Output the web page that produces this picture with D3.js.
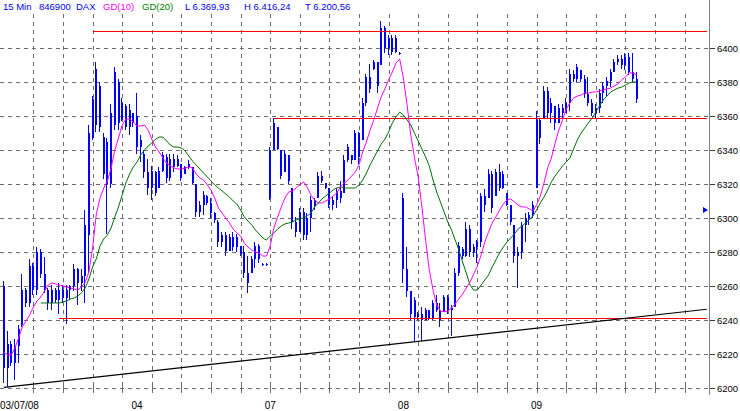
<!DOCTYPE html>
<html><head><meta charset="utf-8">
<script src="https://cdn.jsdelivr.net/npm/d3@7"></script>
<style>
body{margin:0;background:#fff}
svg{display:block}
text{font-family:"Liberation Sans",Arial,sans-serif}
</style>
</head><body>
<svg id="c" width="740" height="411"></svg>
<script>
// ---------- DATA ----------
const dayLabels = ["03/07/08","04","07","08","09"];
const dayStart  = [0,36,72,108,144];
const yTicks = [6200,6220,6240,6260,6280,6300,6320,6340,6360,6380,6400];
const gridIdx = [8,16,24,32,40,48,56,64,72,80,88,96,104,112,120,128,136,144,152,160,168,176,184];

const open = [
6260,6212,6226,6215,6225,6237,6258,6250,6272,6258,6280,6267,6258,6250,6258,6252,6258,6253,6258,6260,6270,6262,6266,6290,6347,6355,6378,6348,6345,6320,6355,6380,6358,6366,6354,6362,
6360,6342,6338,6327,6318,6327,6318,6328,6336,6324,6335,6331,6332,6326,6330,6330,6320,6304,6308,6313,6309,6303,6298,6286,6290,6281,6289,6283,6284,6280,6268,6268,6276,6284,6273,6273,
6312,6340,6354,6340,6327,6337,6318,6298,6292,6304,6290,6300,6311,6312,6325,6321,6318,6308,6311,6316,6315,6334,6337,6334,6350,6346,6368,6383,6388,6392,6390,6412,6400,6406,6398,6397,
6312,6270,6257,6252,6242,6244,6240,6246,6241,6250,6246,6245,6254,6246,6248,6268,6282,6278,6294,6280,6283,6286,6313,6312,6326,6313,6327,6318,6315,6308,6296,6278,6280,6296,6300,6302,
6318,6358,6359,6375,6362,6366,6356,6365,6362,6368,6385,6382,6387,6382,6373,6368,6362,6365,6374,6378,6381,6386,6392,6394,6390,6395,6386,6382];
const high = [
6263,6234,6228,6229,6237,6267,6259,6276,6274,6283,6282,6277,6259,6261,6259,6262,6261,6261,6261,6273,6271,6270,6305,6355,6372,6392,6380,6350,6347,6367,6389,6382,6371,6367,6367,6362,
6374,6349,6340,6335,6331,6328,6330,6339,6338,6338,6338,6337,6332,6331,6334,6330,6320,6310,6316,6314,6312,6304,6299,6292,6292,6291,6292,6291,6284,6284,6278,6278,6286,6285,6274,6274,
6342,6359,6354,6340,6340,6337,6318,6301,6306,6306,6303,6313,6312,6327,6328,6321,6318,6313,6318,6322,6337,6344,6337,6352,6351,6371,6385,6391,6393,6392,6416.24,6413,6408,6408,6408,6398,
6315,6283,6257,6254,6245,6248,6247,6246,6252,6255,6250,6255,6255,6249,6271,6286,6283,6298,6296,6285,6287,6315,6317,6329,6328,6329,6332,6328,6315,6308,6296,6283,6298,6303,6304,6310,
6363,6359,6378,6377,6371,6366,6367,6367,6371,6388,6387,6391,6387,6384,6383,6370,6367,6376,6380,6383,6388,6394,6396,6396,6397,6397,6397,6386];
const low = [
6203,6200.56,6213,6205,6215,6236,6248,6248,6255,6255,6265,6256,6246,6246,6250,6244,6250,6238,6252,6257,6249,6257,6250,6268,6346,6351,6351,6323,6291,6318,6352,6352,6357,6352,6349,6354,
6338,6333,6324,6314,6311,6313,6318,6327,6321,6322,6327,6330,6322,6326,6329,6320,6301,6301,6302,6308,6300,6297,6283,6283,6278,6281,6281,6280,6278,6265,6256,6268,6271,6274,6272,6272,
6311,6340,6340,6323,6327,6320,6294,6289,6292,6287,6287,6292,6305,6312,6321,6317,6306,6305,6306,6309,6315,6333,6332,6334,6332,6346,6366,6374,6387,6374,6390,6397,6396,6396,6397,6396,
6262,6254,6240,6227,6240,6228,6240,6240,6240,6245,6236,6245,6244,6231,6248,6266,6276,6277,6277,6277,6274,6283,6304,6312,6303,6313,6316,6317,6307,6296,6274,6259,6276,6286,6296,6300,
6318,6344,6359,6359,6356,6352,6356,6359,6362,6363,6380,6380,6380,6371,6366,6360,6359,6362,6368,6372,6377,6386,6390,6388,6387,6384,6380,6368];
const close = [
6212,6226,6215,6225,6235,6258,6250,6272,6258,6280,6267,6258,6250,6258,6252,6258,6253,6258,6260,6270,6262,6266,6296,6350,6370,6388,6354,6326,6320,6362,6386,6356,6368,6354,6364,6356,
6342,6346,6327,6318,6328,6315,6328,6337,6324,6335,6330,6335,6324,6330,6332,6321,6304,6308,6314,6309,6303,6299,6286,6290,6281,6289,6283,6289,6279,6268,6262,6276,6284,6276,6273,6273,
6340,6356,6341,6325,6338,6322,6298,6292,6304,6290,6300,6311,6307,6325,6322,6318,6308,6311,6316,6312,6334,6342,6334,6350,6336,6368,6383,6376,6392,6378,6412,6400,6406,6398,6406,6397,
6270,6257,6244,6242,6244,6240,6246,6241,6250,6246,6240,6254,6246,6247,6268,6284,6278,6294,6280,6283,6286,6313,6308,6326,6306,6327,6318,6326,6308,6298,6278,6280,6296,6300,6302,6308,
6358,6347,6375,6362,6368,6356,6365,6362,6368,6385,6382,6389,6382,6373,6368,6362,6365,6374,6378,6381,6386,6392,6394,6390,6395,6386,6382,6369.93];

const gd10 = [
6221.4,6219.6,6219.6,6223.7,6229.6,6236.1,6239.6,6243.1,6247.8,6251.4,6253.7,6257.2,6260.8,6262,6261.4,6260.8,6260.2,6259.6,6259,6258.4,6257.8,6259.6,6262.5,6268.4,6282.6,6302.5,6311.9,6317.8,6321.9,6329.6,6340.1,6347.2,6354.9,6358.4,6358.4,6356.6,
6354.3,6354.3,6354.9,6351.9,6346.6,6341.9,6339,6335.5,6332.5,6330.8,6329.6,6329,6329,6329.6,6330.2,6329.6,6326.1,6323.7,6322.5,6319.6,6316.7,6312,6306.1,6303.1,6300.2,6297.2,6293.7,6291.4,6289.6,6285.5,6283.1,6281.4,6280.2,6279.6,6277.8,6277.8,
6283.7,6294.3,6300.8,6306.7,6312,6315.5,6316.1,6317.8,6319.6,6321.4,6318.4,6313.7,6310.8,6309,6309,6310.2,6311.4,6313.1,6314.9,6318.4,6320.8,6322.5,6324.9,6327.2,6331.4,6339,6344.9,6351.9,6357.8,6364.9,6371.4,6376.1,6381.4,6386,6391.4,6393.7,
6382.5,6366.6,6349,6335.5,6324.3,6306.7,6287.2,6269.6,6257.8,6249,6245.5,6245,6245.5,6247.2,6249.6,6252.5,6255.5,6259,6262.5,6267.2,6271.9,6278.4,6286.1,6291.9,6297.2,6300.8,6304.9,6308.4,6310.8,6311.4,6309.6,6307.8,6306.7,6306.7,6305.5,6304.3,
6307.8,6313.1,6320.8,6329.6,6335.5,6344.3,6351.9,6357.8,6364.3,6367.8,6370.8,6371.9,6372.5,6373.7,6373.7,6374.3,6374.3,6374.9,6375.5,6376.1,6376.6,6377.8,6379,6381.4,6383.1,6385.5,6385.5,6384.3];
const gd20 = [
null,null,null,null,null,null,null,null,null,null,
6250.2,6250.2,6250.2,6250.2,6250.2,6250.2,6250.8,6251.4,6252.5,6253.1,6254.3,6256.1,6259,6264.3,6271.4,6276.1,6283.7,6287.8,6290.2,6294.3,6300.8,6306.7,6313.7,6320.8,6326.1,6330.2,
6333.1,6337.2,6340.1,6342.5,6344.3,6346.6,6347.8,6347.8,6345.5,6343.1,6341.9,6341.9,6341.4,6339.6,6336.6,6333.7,6331.4,6329,6326.6,6324.3,6322,6319.6,6317.8,6316.1,6314.3,6312.5,6310.2,6308.4,6304.9,6300.8,6298.4,6296.1,6293.1,6290.8,6288.4,6287.2,
6289.6,6291.4,6293.7,6295.5,6296.7,6297.2,6297.8,6299,6299.6,6300.2,6301.4,6303.1,6306.7,6309,6311.4,6313.1,6314.9,6316.7,6317.8,6318.4,6317.8,6317.8,6317.8,6317.8,6319.6,6322.5,6326.6,6331.4,6335.5,6339.6,6343.7,6346.6,6350.7,6356.1,6359.6,6362.5,
6360.8,6357.8,6354.9,6350.1,6345.5,6340.8,6336.1,6330.8,6322.5,6315.5,6309.6,6303.7,6297.8,6293.1,6287.2,6281.4,6274.3,6267.8,6260.8,6257.8,6257.8,6260.8,6263.7,6266.6,6271.4,6275.5,6279.6,6283.1,6286.1,6288.4,6290.8,6293.7,6295.5,6297.2,6299,6301.4,
6304.9,6309,6312.5,6316.7,6321.4,6324.9,6327.8,6330.8,6333.1,6335.5,6340.8,6346.1,6350.1,6353.1,6356.1,6359,6362.5,6366,6369.6,6371.9,6374.3,6375.5,6376.6,6377.2,6378.4,6379.6,6380.2,6380.2];

// horizontal support/resistance lines: value + first bar index
const levelValue = [6410.2, 6358.8, 6241.1];
const levelFrom  = [24, 73, 15];
const lineEndIdx = 190;
// trend line (two anchor points: bar index, value)
const trendIdx = [0, 190];
const trendVal = [6200.56, 6246.5];
const markerValue = 6304.6;

// ---------- CHART ----------
const svg = d3.select("#c");
const BLUE = "#0000ff", MAG = "#ff00ff", GRN = "#006f00", GRID = "#6e6e6e";
const x = d3.scaleLinear().domain([0, 1]).range([3.8, 7.5]);
const y = d3.scaleLinear().domain([6200, 6400]).range([388.3, 48.3]);
const px = v => Math.round(v) + 0.5;
const axisX = 709.5;

const grid = svg.append("g").attr("stroke", GRID).attr("stroke-dasharray", "4,4").attr("shape-rendering","crispEdges");
grid.selectAll(".h").data(yTicks).join("line")
  .attr("x1", 0).attr("x2", axisX).attr("y1", d => px(y(d))).attr("y2", d => px(y(d)));
grid.selectAll(".v").data(gridIdx).join("line")
  .attr("x1", d => px(x(d))).attr("x2", d => px(x(d))).attr("y1", 14).attr("y2", px(y(6200)));

// x-axis tick marks
svg.append("g").attr("stroke", GRID).attr("shape-rendering","crispEdges")
  .selectAll("line").data(gridIdx).join("line")
  .attr("x1", d => px(x(d))).attr("x2", d => px(x(d))).attr("y1", px(y(6200)) - 3).attr("y2", px(y(6200)) + 4);

// y axis
svg.append("line").attr("x1", axisX).attr("x2", axisX).attr("y1", 0).attr("y2", 395)
  .attr("stroke", "#808080").attr("shape-rendering","crispEdges");
const ya = svg.append("g");
ya.selectAll("line").data(yTicks).join("line")
  .attr("x1", axisX).attr("x2", axisX + 5).attr("y1", d => px(y(d))).attr("y2", d => px(y(d)))
  .attr("stroke", "#404040").attr("shape-rendering","crispEdges");
ya.selectAll("text").data(yTicks).join("text")
  .attr("x", 717).attr("y", d => y(d) + 3.5).attr("font-size", 9.5).attr("fill", "#000").text(d => d);

// x labels
svg.append("g").selectAll("text").data(dayLabels).join("text")
  .attr("x", (d, k) => k === 0 ? 0 : x(dayStart[k]))
  .attr("text-anchor", (d, k) => k === 0 ? "start" : "middle")
  .attr("y", 409).attr("font-size", 10).attr("fill", "#000").text(d => d);

// bars
const idx = d3.range(high.length);
const bars = svg.append("g").attr("fill", BLUE).attr("shape-rendering","crispEdges");
bars.selectAll(".w").data(idx).join("rect")
  .attr("x", i => Math.round(x(i)) - 1).attr("width", 1)
  .attr("y", i => Math.round(y(high[i])))
  .attr("height", i => Math.max(1, Math.round(y(low[i])) - Math.round(y(high[i]))));
bars.selectAll(".b").data(idx).join("rect")
  .attr("x", i => Math.round(x(i)) - 1).attr("width", 2)
  .attr("y", i => Math.round(y(Math.max(open[i], close[i]))))
  .attr("height", i => Math.max(1, Math.round(y(Math.min(open[i], close[i]))) - Math.round(y(Math.max(open[i], close[i])))));

// levels
svg.append("g").selectAll("line").data(levelValue).join("line")
  .attr("x1", (d, k) => x(levelFrom[k])).attr("x2", x(lineEndIdx))
  .attr("y1", d => px(y(d))).attr("y2", d => px(y(d)))
  .attr("stroke", "#ff0000").attr("shape-rendering","crispEdges");

// trend line
svg.append("line")
  .attr("x1", x(trendIdx[0])).attr("y1", y(trendVal[0]))
  .attr("x2", x(trendIdx[1])).attr("y2", y(trendVal[1]))
  .attr("stroke", "#000").attr("stroke-width", 1.2);

// moving averages
const line = d3.line().defined(d => d != null).x((d, i) => x(i)).y(d => y(d));
svg.append("path").attr("d", line(gd20)).attr("fill", "none").attr("stroke", GRN).attr("stroke-width", 1);
svg.append("path").attr("d", line(gd10)).attr("fill", "none").attr("stroke", MAG).attr("stroke-width", 1);

// price marker at right
const my = Math.round(y(markerValue));
svg.append("path").attr("d", `M703,${my-3}L708,${my}L703,${my+3}Z`).attr("fill", BLUE);

// header
const de = d3.formatLocale({decimal: ",", thousands: ".", grouping: [3], currency: ["", ""]}).format(",.2f");
const header = [
  ["15 Min", BLUE, 3], ["846900", BLUE, 39], ["DAX", BLUE, 76],
  ["GD(10)", MAG, 103], ["GD(20)", "#008000", 142],
  ["L " + de(close[close.length - 1]), BLUE, 185],
  ["H " + de(d3.max(high)), BLUE, 244],
  ["T " + de(d3.min(low)), BLUE, 305]
];
svg.append("g").selectAll("text").data(header).join("text")
  .attr("x", d => d[2]).attr("y", 9.5).attr("font-size", 9.5).attr("fill", d => d[1]).text(d => d[0]);
</script>
</body></html>
